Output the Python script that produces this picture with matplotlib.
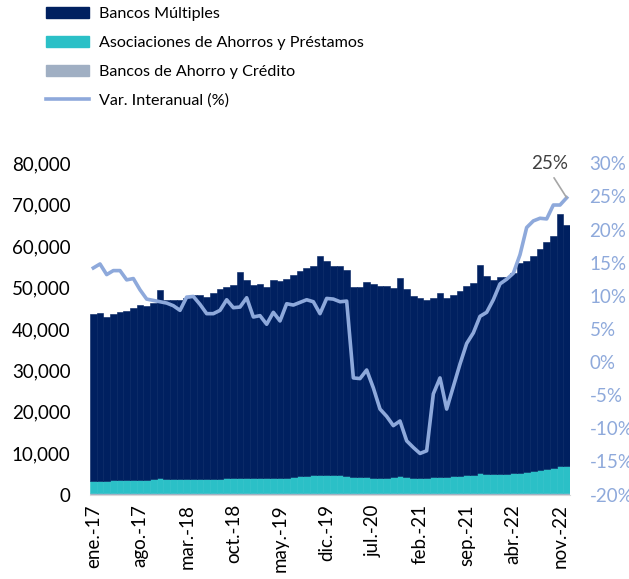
import numpy as np
import matplotlib
matplotlib.use('Agg')
from matplotlib import pyplot as plt
from matplotlib.patches import Patch
from matplotlib.lines import Line2D

plt.rcParams['font.family'] = ['Lato', 'DejaVu Sans']

# monthly series, ene-17 .. dic-22
bancos_multiples = [40200, 40600, 39600, 40100, 40800, 40900, 41600, 42200, 42000, 42600,
                    45200, 43100, 43200, 43400, 43700, 44400, 44600, 44100, 44800, 45800,
                    46200, 46800, 49700, 47700, 46700, 46900, 46300, 47700, 47500, 47900,
                    48700, 49700, 50300, 50500, 52900, 51800, 50500, 50500, 49800, 45900,
                    45900, 47200, 46700, 46300, 46200, 45700, 47900, 45400, 43900, 43400,
                    43000, 43300, 44300, 43100, 43700, 44700, 45800, 46500, 50300, 47900,
                    46900, 47500, 47500, 48300, 50500, 51000, 51900, 53300, 54700, 56100,
                    60800, 58300]
asociaciones = [3000, 3000, 3000, 3100, 3100, 3200, 3200, 3300, 3300, 3400,
                3800, 3500, 3500, 3400, 3400, 3400, 3400, 3400, 3500, 3500,
                3600, 3600, 3800, 3700, 3600, 3600, 3600, 3700, 3700, 3800,
                3900, 4100, 4200, 4300, 4400, 4400, 4300, 4300, 4200, 4000,
                3900, 3900, 3800, 3800, 3800, 3900, 4100, 3900, 3800, 3800,
                3800, 3900, 4000, 4000, 4100, 4200, 4300, 4400, 4800, 4600,
                4600, 4700, 4700, 4800, 5000, 5200, 5500, 5700, 5900, 6100,
                6700, 6500]
bancos_ahorro = [300] * 72
var_interanual = [14.2, 14.8, 13.2, 13.8, 13.8, 12.4, 12.6, 10.9, 9.5, 9.3,
                  9.1, 8.9, 8.5, 7.8, 9.8, 9.9, 8.7, 7.3, 7.3, 7.8,
                  9.4, 8.2, 8.3, 9.7, 6.8, 7.0, 5.7, 7.5, 6.2, 8.8,
                  8.6, 9.0, 9.4, 9.1, 7.3, 9.6, 9.5, 9.1, 9.2, -2.4,
                  -2.5, -1.2, -3.9, -7.1, -8.2, -9.6, -8.9, -11.9, -12.9, -13.8,
                  -13.4, -4.8, -2.4, -7.1, -3.7, -0.3, 2.8, 4.4, 6.9, 7.5,
                  9.4, 11.8, 12.5, 13.4, 16.2, 20.3, 21.3, 21.7, 21.6, 23.7,
                  23.7, 24.8]
tick_labels = ['ene.-17', 'ago.-17', 'mar.-18', 'oct.-18', 'may.-19', 'dic.-19',
               'jul.-20', 'feb.-21', 'sep.-21', 'abr.-22', 'nov.-22']

c_bm = '#002060'
c_aap = '#2BC0C7'
c_bac = '#A0AFC3'
c_line = '#8EA9DB'

x = np.arange(len(bancos_multiples))
bac = np.array(bancos_ahorro)
aap = np.array(asociaciones)
bm = np.array(bancos_multiples)

fig = plt.figure(figsize=(6.29, 5.79), dpi=100)
ax = fig.add_axes([0.1431, 0.1459, 0.7631, 0.5721])

ax.bar(x, bac, width=1.0, color=c_bac, edgecolor=c_bac, linewidth=0.4)
ax.bar(x, aap, bottom=bac, width=1.0, color=c_aap, edgecolor=c_aap, linewidth=0.4)
ax.bar(x, bm, bottom=bac + aap, width=1.0, color=c_bm, edgecolor=c_bm, linewidth=0.4)

ax.set_xlim(-0.5, len(x) - 0.5)
ax.set_ylim(0, 80000)
ax.set_yticks(np.arange(0, 80001, 10000))
ax.set_yticklabels(['{:,.0f}'.format(v) for v in np.arange(0, 80001, 10000)])
ax.set_xticks(x[::7])
ax.set_xticklabels(tick_labels, rotation=90)
ax.tick_params(axis='y', length=0, pad=14, labelsize=13.5, labelcolor='#000000')
ax.tick_params(axis='x', length=0, pad=7, labelsize=13.5, labelcolor='#000000')
for s in ['top', 'left', 'right']:
    ax.spines[s].set_visible(False)
ax.spines['bottom'].set_color('#D9D9D9')
ax.spines['bottom'].set_linewidth(0.8)

ax2 = ax.twinx()
ax2.plot(x, var_interanual, color=c_line, linewidth=2.6, solid_joinstyle='round')
ax2.set_ylim(-20, 30)
ax2.set_yticks(np.arange(-20, 31, 5))
ax2.set_yticklabels(['{:.0f}%'.format(v) for v in np.arange(-20, 31, 5)])
ax2.tick_params(axis='y', length=0, pad=14, labelsize=13.5, labelcolor=c_line)
for s in ax2.spines.values():
    s.set_visible(False)

# last observation label with leader line
last = var_interanual[-1]
ax2.annotate('{:.0f}%'.format(last), xy=(x[-1], last), xytext=(-12, 25),
             textcoords='offset points', ha='center', va='center',
             fontsize=13.5, color='#404040',
             arrowprops=dict(arrowstyle='-', color='#A6A6A6', lw=1.2,
                             shrinkA=3, shrinkB=0, relpos=(0.5, 0.0)))

handles = [Patch(color=c_bm), Patch(color=c_aap), Patch(color=c_bac),
           Line2D([0], [0], color=c_line, linewidth=2.6)]
labels = ['Bancos Múltiples', 'Asociaciones de Ahorros y Préstamos',
          'Bancos de Ahorro y Crédito', 'Var. Interanual (%)']
fig.legend(handles, labels, loc='upper left', bbox_to_anchor=(0.07, 0.991),
           frameon=False, fontsize=11.6, handlelength=2.7, handletextpad=0.6,
           labelspacing=0.91, borderpad=0.1, borderaxespad=0)

fig.savefig('out.png', dpi=100)
